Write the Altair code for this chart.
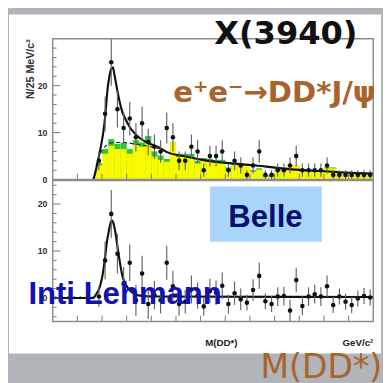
import altair as alt
import pandas as pd

# ---------------- data ----------------
BIN_W = 0.025
bin_lo = [round(3.875 + BIN_W * i, 4) for i in range(45)]
zero_bin_lo = [round(3.7 + BIN_W * i, 4) for i in range(7)]

top_counts = [4, 14, 25, 15, 11, 13, 9, 12, 8, 7, 6, 11, 9, 4, 4, 7, 6, 2, 5, 5,
              6, 2, 4, 3, 1, 3, 6, 1, 1, 2, 2, 3, 5, 2, 2, 2, 2, 3, 1, 1,
              1, 1, 1, 1, 1]
top_err = [2.0, 3.7, 5.0, 3.9, 3.3, 3.6, 3.0, 3.5, 2.8, 2.6, 2.4, 3.3, 3.0, 2.0, 2.0,
           2.6, 2.4, 1.4, 2.2, 2.2, 2.4, 1.4, 2.0, 1.7, 1.0, 1.7, 2.4, 1.0, 1.0, 1.4,
           1.4, 1.7, 2.2, 1.4, 1.4, 1.4, 1.4, 1.7, 1.0, 1.0, 1.0, 1.0, 1.0, 1.0, 1.0]
bg_yellow = [3.0, 5.5, 7.2, 6.5, 6.5, 5.5, 7.4, 7.0, 7.9, 4.9, 4.2, 3.8, 7.9, 4.8, 4.8,
             4.8, 3.4, 4.2, 3.8, 3.8, 3.8, 2.1, 3.1, 3.1, 3.1, 1.7, 2.1, 0.6, 0.6, 2.4,
             2.4, 3.1, 3.1, 1.7, 1.7, 1.7, 1.7, 2.4, 2.4, 1.3, 1.3, 1.3, 1.0, 1.0, 1.0]
bg_green = [3.5, 6.5, 8.6, 7.6, 7.9, 6.5, 8.4, 7.9, 9.3, 6.0, 5.1, 4.4, 7.9, 5.5, 5.5,
            5.5, 4.0, 4.6, 4.4, 4.2, 4.2, 2.6, 3.5, 3.4, 3.3, 2.0, 2.4, 1.0, 1.0, 2.6,
            2.6, 3.1, 3.1, 1.9, 1.9, 1.9, 1.9, 2.6, 2.6, 1.5, 1.5, 1.5, 1.2, 1.2, 1.2]

sub_vals = [0.3, 8.0, 17.9, 9.4, 3.0, 7.5, -0.5, 5.2, -1.3, 0.6, -0.5, 7.5, 2.5, -1.3, -0.8,
            1.8, 0.5, -1.8, 1.5, 1.1, 2.6, -1.3, 1.0, -0.3, -1.0, 1.7, 4.7, -0.7, -1.3, 0.3,
            0.4, -2.7, 3.8, -1.7, 0.3, 0.8, 0.3, 2.5, -1.5, 0.3, -0.8, -1.5, -0.1, 0.4, 0.1]
sub_err = [2.2, 4.0, 5.1, 4.2, 3.6, 3.9, 3.3, 3.8, 3.2, 3.0, 2.8, 3.6, 3.3, 2.5, 2.5,
           3.0, 2.8, 2.0, 2.6, 2.6, 2.8, 2.0, 2.5, 2.3, 1.7, 2.3, 2.8, 1.7, 1.7, 2.0,
           2.0, 2.3, 2.6, 2.0, 2.0, 2.0, 2.0, 2.3, 1.7, 1.7, 1.7, 1.7, 1.7, 1.7, 1.7]

fit_top_x = [3.865, 3.873, 3.885, 3.897, 3.905, 3.913, 3.922, 3.930, 3.937, 3.944, 3.950,
             3.957, 3.970, 3.983, 3.996, 4.011, 4.030, 4.054, 4.082, 4.133, 4.161, 4.239,
             4.318, 4.436, 4.507, 4.625, 4.759, 4.889, 5.0]
fit_top_y = [0, 1.5, 4.4, 7.5, 10, 13.5, 19, 22, 23.5, 23.9, 22.5, 20.4, 16.9, 14.3, 12.8,
             11.3, 10, 8.8, 7.9, 6.8, 5.9, 4.9, 4.1, 3.4, 3.1, 2.4, 1.9, 1.5, 1.3]
bkg_top_x = [3.866, 3.88, 3.9, 3.92, 3.95, 3.99, 4.03, 4.08, 4.13]
bkg_top_y = [0, 3.5, 6.2, 7.4, 7.9, 7.9, 7.6, 7.2, 6.6]

fit_sub_x = [3.7, 3.865, 3.873, 3.892, 3.901, 3.911, 3.920, 3.928, 3.936, 3.941, 3.946,
             3.953, 3.967, 3.983, 3.995, 4.010, 4.031, 4.054, 4.12, 5.0]
fit_sub_y = [0, 0, 0.5, 2.5, 4.5, 8, 12, 14.3, 16.2, 16.5, 16, 14.3, 9.4, 4.6, 3.0, 1.8,
             0.9, 0.5, 0.3, 0.2]

x_tick_vals = [3.8, 3.9, 4.0, 4.1, 4.2, 4.3, 4.4, 4.5, 4.6, 4.7, 4.8, 4.9]
y_major_top = [0, 10, 20]
y_minor_top = [2, 4, 6, 8, 12, 14, 16, 18, 22, 24, 26, 28]
y_major_sub = [0, 10, 20]
y_minor_sub = [-4, -2, 2, 4, 6, 8, 12, 14, 16, 18, 22, 24]

# ---------------- tables ----------------
top_df = pd.DataFrame({
    "lo": bin_lo, "hi": [round(v + BIN_W, 4) for v in bin_lo],
    "c": [round(v + BIN_W / 2, 4) for v in bin_lo],
    "n": top_counts, "err": top_err, "yel": bg_yellow, "grn": bg_green,
})
top_df["n_lo"] = top_df["n"] - top_df["err"]
top_df["n_hi"] = top_df["n"] + top_df["err"]
top_df["zero"] = 0.0

sub_df = pd.DataFrame({
    "c": [round(v + BIN_W / 2, 4) for v in bin_lo],
    "n": sub_vals, "err": sub_err,
})
sub_df["n_lo"] = sub_df["n"] - sub_df["err"]
sub_df["n_hi"] = sub_df["n"] + sub_df["err"]
zero_df = pd.DataFrame({"c": [round(v + BIN_W / 2, 4) for v in zero_bin_lo],
                        "n": [0.0] * len(zero_bin_lo)})

fit_top_df = pd.DataFrame({"x": fit_top_x, "y": fit_top_y})
bkg_top_df = pd.DataFrame({"x": bkg_top_x, "y": bkg_top_y})
fit_sub_df = pd.DataFrame({"x": fit_sub_x, "y": fit_sub_y})
xt_df = pd.DataFrame({"x": x_tick_vals})

W, H = 330, 145
XS = alt.Scale(domain=[3.7, 5.0], zero=False, nice=False)
YT = alt.Scale(domain=[0, 30], zero=False, nice=False)
YB = alt.Scale(domain=[-5, 25], zero=False, nice=False)

AX_TOP = alt.Axis(values=[0, 10, 20], ticks=False, domain=False, grid=False,
                  labelFont="Liberation Sans", labelFontSize=9, labelFontWeight="bold",
                  labelColor="#333333", labelPadding=6, zindex=1,
                  title="N/25 MeV/c²", titleFont="Liberation Sans", titleFontSize=11,
                  titleFontWeight="bold", titleColor="#333333", titleAngle=270,
                  titleX=-20, titleY=0, titleAlign="right", titleBaseline="alphabetic")
AX_SUB = alt.Axis(values=[0, 10, 20], ticks=False, domain=False, grid=False,
                  labelFont="Liberation Sans", labelFontSize=9, labelFontWeight="bold",
                  labelColor="#333333", labelPadding=6, zindex=0, title=None)


def one(t):
    return pd.DataFrame({"t": [t]})


def xq(f):
    return alt.X(f, type="quantitative", scale=XS, axis=None)


def yq(f, sc, ax):
    return alt.Y(f, type="quantitative", scale=sc, axis=ax)


def text_layer(t, x, y, size, color, font="DejaVu Sans", weight="bold", align="left"):
    return alt.Chart(one(t)).mark_text(
        align=align, baseline="alphabetic", font=font, fontSize=size,
        fontWeight=weight, color=color
    ).encode(x=alt.value(x), y=alt.value(y), text="t:N")


def ticks_layers(sc, ax, ymaj, ymin):
    ly = []
    ly.append(alt.Chart(xt_df).mark_rule(color="#777777", strokeWidth=1).encode(
        x=xq("x"), y=alt.value(H), y2=alt.value(H - 6)))
    ly.append(alt.Chart(pd.DataFrame({"y": ymaj})).mark_rule(color="#777777", strokeWidth=1).encode(
        y=yq("y", sc, ax), x=alt.value(0), x2=alt.value(8)))
    ly.append(alt.Chart(pd.DataFrame({"y": ymin})).mark_rule(color="#777777", strokeWidth=1).encode(
        y=yq("y", sc, ax), x=alt.value(0), x2=alt.value(4)))
    return ly


frame = alt.Chart(one("f")).mark_rect(filled=False, color="#8c8c8c", strokeWidth=1.5).encode(
    x=alt.value(0), x2=alt.value(W), y=alt.value(0), y2=alt.value(H))

# ---------------- top panel ----------------
top_layers = [
    alt.Chart(one("g")).mark_rect(color="#b1b4b9").encode(
        x=alt.value(-45), x2=alt.value(338), y=alt.value(-25), y2=alt.value(352)),
    alt.Chart(one("w")).mark_rect(color="#ffffff").encode(
        x=alt.value(-45), x2=alt.value(338), y=alt.value(-25), y2=alt.value(324)),
    alt.Chart(top_df).mark_rect(color="#33c433").encode(
        x=xq("lo"), x2="hi", y=yq("zero", YT, AX_TOP), y2="grn"),
    alt.Chart(top_df).mark_rect(color="#fafa00").encode(
        x=xq("lo"), x2="hi", y=yq("zero", YT, AX_TOP), y2="yel"),
    alt.Chart(bkg_top_df).mark_line(color="#222222", strokeWidth=1.2, strokeDash=[4, 3],
                                     interpolate="monotone").encode(
        x=xq("x"), y=yq("y", YT, AX_TOP)),
    alt.Chart(fit_top_df).mark_line(color="#111111", strokeWidth=2.2,
                                     interpolate="monotone").encode(
        x=xq("x"), y=yq("y", YT, AX_TOP)),
    alt.Chart(top_df).mark_rule(color="#666666", strokeWidth=1.2, clip=True).encode(
        x=xq("c"), y=yq("n_lo", YT, AX_TOP), y2="n_hi"),
    alt.Chart(top_df).mark_point(filled=True, size=22, color="#111111", opacity=1).encode(
        x=xq("c"), y=yq("n", YT, AX_TOP)),
] + ticks_layers(YT, AX_TOP, y_major_top, y_minor_top) + [
    frame,
    text_layer("X(3940)", 240, 5, 33, "#111111", align="center"),
    text_layer("e⁺e⁻→DD*J/ψ", 124, 65, 30, "#a8642b"),
]
top = alt.layer(*top_layers).properties(width=W, height=H)

# ---------------- bottom panel ----------------
sub_layers = [
    alt.Chart(one("b")).mark_rect(color="#a9d5fb").encode(
        x=alt.value(162), x2=alt.value(277), y=alt.value(6), y2=alt.value(63)),
    alt.Chart(fit_sub_df).mark_line(color="#111111", strokeWidth=2.2,
                                     interpolate="monotone").encode(
        x=xq("x"), y=yq("y", YB, AX_SUB)),
    alt.Chart(sub_df).mark_rule(color="#666666", strokeWidth=1.2, clip=True).encode(
        x=xq("c"), y=yq("n_lo", YB, AX_SUB), y2="n_hi"),
    alt.Chart(sub_df).mark_point(filled=True, size=22, color="#111111", opacity=1).encode(
        x=xq("c"), y=yq("n", YB, AX_SUB)),
    alt.Chart(zero_df).mark_point(filled=True, size=8, color="#111111", opacity=1).encode(
        x=xq("c"), y=yq("n", YB, AX_SUB)),
] + ticks_layers(YB, AX_SUB, y_major_sub, y_minor_sub) + [
    frame,
    text_layer("Belle", 219, 48, 32, "#0b1070", font="Liberation Sans", align="center"),
    text_layer("M(DD*)", 157, 170, 10, "#222222", font="Liberation Sans"),
    text_layer("GeV/c²", 330, 170, 10, "#222222", font="Liberation Sans", align="right"),
    text_layer("Inti Lehmann", -25, 127, 32, "#1212b0", font="Liberation Sans"),
    text_layer("M(DD*)", 214, 203, 34, "#a8642b", weight="normal"),
]
bottom = alt.layer(*sub_layers).properties(width=W, height=H)

chart = alt.vconcat(top, bottom, spacing=1, bounds="flush").properties(
    padding=0, background="#b1b4b9"
).configure_view(stroke="transparent")

chart.save("out.html", embed_options={"renderer": "svg", "actions": False})
